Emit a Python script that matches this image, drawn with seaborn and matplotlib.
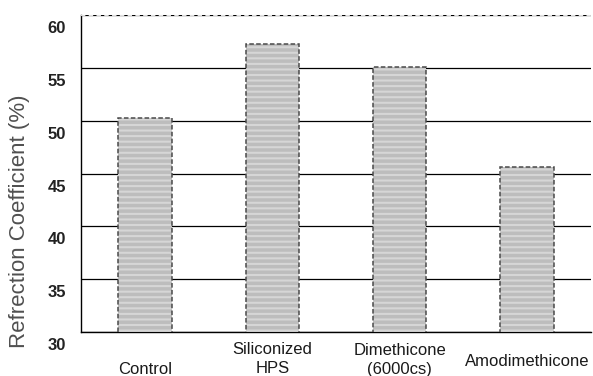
import pandas as pd
import seaborn as sns
import matplotlib.pyplot as plt
import matplotlib.transforms as mtrans
from matplotlib.patches import Rectangle

# data
categories = ['Control', 'Siliconized\nHPS', 'Dimethicone\n(6000cs)', 'Amodimethicone']
values = [50.3, 57.3, 55.1, 45.6]
y_ticks = [30, 35, 40, 45, 50, 55, 60]

df = pd.DataFrame({'treatment': categories, 'coef': values})

sns.set_style('white')
plt.rcParams['font.family'] = ['Liberation Sans', 'DejaVu Sans']
plt.rcParams['hatch.linewidth'] = 1.5

fig = plt.figure(figsize=(5.93, 3.76), dpi=100)
ax = fig.add_axes([0.137, 0.117, 0.859, 0.843])

sns.barplot(x='treatment', y='coef', data=df, color='#bdbdbd', width=0.42,
            saturation=1, ax=ax, zorder=3)
# light stripes (hatch takes the edge colour), dark dotted outline on top
for bar in list(ax.patches):
    bar.set_hatch('---')
    bar.set_edgecolor('#d6d6d6')
    bar.set_linewidth(0)
    ax.add_patch(Rectangle(bar.get_xy(), bar.get_width(), bar.get_height(),
                           fill=False, edgecolor='#4a4a4a', linewidth=1.1,
                           linestyle=(0, (3, 1.5)), zorder=4))

ax.set_ylim(30, 60)
ax.set_xlim(-0.5, 3.5)
ax.set_yticks(y_ticks)
ax.yaxis.grid(True, color='black', linewidth=0.9, zorder=0)
ax.set_axisbelow(True)

ax.set_xlabel('')
ax.set_ylabel('Refrection Coefficient (%)', fontsize=16, color='#505050')
ax.yaxis.set_label_coords(-0.1, 0.35)

ax.tick_params(axis='y', length=0, pad=11, labelsize=12)
for lbl in ax.get_yticklabels():
    lbl.set_fontweight('bold')
    lbl.set_color('#222222')
    lbl.set_transform(lbl.get_transform() + mtrans.ScaledTranslation(0, -12 / 100, fig.dpi_scale_trans))

# staggered x labels as in the scan
ax.tick_params(axis='x', length=0, pad=4, labelsize=12)
x_shifts = [-24, -4, -5, -16]
for lbl, dy in zip(ax.get_xticklabels(), x_shifts):
    lbl.set_linespacing(1.35)
    lbl.set_color('#1a1a1a')
    lbl.set_transform(lbl.get_transform() + mtrans.ScaledTranslation(0, dy / 100, fig.dpi_scale_trans))

ax.set_xticks([0.5, 1.5, 2.5], minor=True)
ax.tick_params(axis='x', which='minor', direction='in', length=3, color='#666666')

for side in ['left', 'bottom']:
    ax.spines[side].set_color('black')
    ax.spines[side].set_linewidth(1.0)
ax.spines['top'].set_color('#dddddd')
ax.spines['top'].set_linestyle((0, (3, 4)))
ax.spines['right'].set_visible(False)

plt.savefig('out.png', dpi=100)
